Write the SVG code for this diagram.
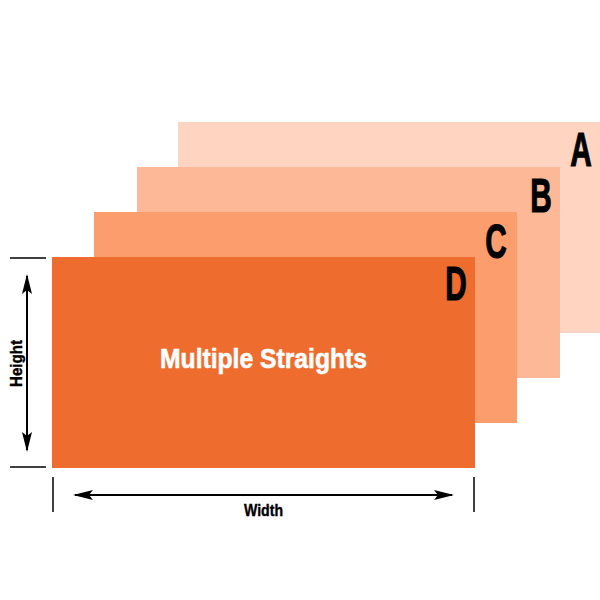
<svg xmlns="http://www.w3.org/2000/svg" width="600" height="600" viewBox="0 0 600 600">
<style>
.lbl{font-family:"Liberation Sans",Arial,sans-serif;font-weight:bold;fill:#000}
.big{font-size:48px;stroke:#000;stroke-width:1.2;text-anchor:middle}
.dim{font-size:17px;stroke:#000;stroke-width:0.4}
.tick{stroke:#000;stroke-width:1.5}
.arr{stroke:#000;stroke-width:2;marker-start:url(#ah);marker-end:url(#ah)}
</style>
<defs>
<marker id="ah" viewBox="0 0 20 10" refX="18" refY="5" markerWidth="20" markerHeight="10" markerUnits="userSpaceOnUse" orient="auto-start-reverse">
<path d="M0,0 L20,5 L0,10 L4,5 Z" fill="#000"/>
</marker>
</defs>
<rect width="600" height="600" fill="#fff"/>
<g id="A"><rect x="178" y="122" width="422" height="211" fill="#FFD4C1"/><text class="lbl big" transform="translate(581,166) scale(0.62,1)">A</text></g>
<g id="B"><rect x="137" y="167" width="423" height="211" fill="#FDB897"/><text class="lbl big" transform="translate(541,212) scale(0.62,1)">B</text></g>
<g id="C"><rect x="94" y="212" width="423" height="211" fill="#FC9D6E"/><text class="lbl big" transform="translate(496,258) scale(0.62,1)">C</text></g>
<g id="D"><rect x="52" y="257" width="423" height="211" fill="#EF6C2F"/><text class="lbl big" transform="translate(456,300) scale(0.62,1)">D</text>
<text class="lbl" x="160" y="368" font-size="28" style="fill:#fff;stroke:#fff;stroke-width:0.6" textLength="207" lengthAdjust="spacingAndGlyphs">Multiple Straights</text></g>
<g id="connectors">
<line class="tick" x1="10" y1="258" x2="46" y2="258"/>
<line class="tick" x1="10" y1="467" x2="46" y2="467"/>
<line class="arr" x1="27" y1="276" x2="27" y2="450"/>
<line class="tick" x1="53" y1="477" x2="53" y2="512"/>
<line class="tick" x1="474" y1="477" x2="474" y2="512"/>
<line class="arr" x1="75" y1="495" x2="452" y2="495"/>
</g>
<text class="lbl dim" transform="translate(22,387) rotate(-90)" textLength="47" lengthAdjust="spacingAndGlyphs">Height</text>
<text class="lbl dim" x="244" y="516" textLength="39" lengthAdjust="spacingAndGlyphs">Width</text>
</svg>
